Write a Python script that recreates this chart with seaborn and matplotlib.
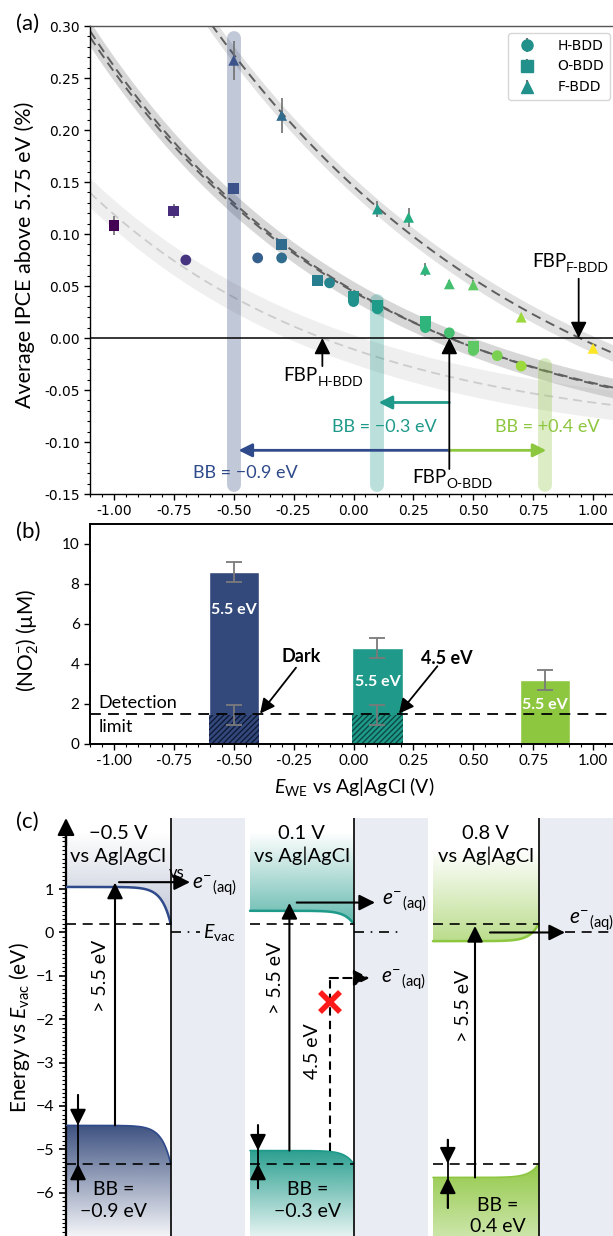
import numpy as np
import pandas as pd
import matplotlib
matplotlib.use('Agg')
import matplotlib.pyplot as plt
from matplotlib.patches import Polygon
from matplotlib.colors import to_rgb
from matplotlib.ticker import MultipleLocator, FixedLocator
import seaborn as sns

# ---------------- panel (a): IPCE vs potential ----------------
h_bdd_E = [-0.7, -0.4, -0.3, -0.1, 0.0, 0.1, 0.3, 0.4, 0.5, 0.6, 0.7]
h_bdd_ipce = [0.075, 0.077, 0.077, 0.053, 0.035, 0.028, 0.010, 0.005, -0.012, -0.017, -0.027]
h_bdd_err = [0.002, 0.002, 0.002, 0.002, 0.002, 0.002, 0.002, 0.002, 0.002, 0.002, 0.002]

o_bdd_E = [-1.0, -0.75, -0.5, -0.3, -0.15, 0.0, 0.1, 0.3, 0.5]
o_bdd_ipce = [0.108, 0.122, 0.144, 0.090, 0.055, 0.040, 0.031, 0.016, -0.008]
o_bdd_err = [0.009, 0.007, 0.005, 0.003, 0.002, 0.002, 0.002, 0.002, 0.002]

f_bdd_E = [-0.5, -0.3, 0.1, 0.23, 0.3, 0.4, 0.5, 0.7, 1.0]
f_bdd_ipce = [0.267, 0.214, 0.124, 0.116, 0.066, 0.052, 0.051, 0.020, -0.010]
f_bdd_err = [0.019, 0.017, 0.008, 0.009, 0.006, 0.004, 0.005, 0.003, 0.003]

# exponential fits, y = a*exp(-b*E) + c, last value = half width of the band
fit_lower = [0.0845, 0.93, -0.0954, 0.014]
fit_mid_1 = [0.153, 0.88, -0.1075, 0.009]
fit_mid_2 = [0.150, 0.88, -0.1055, 0.009]
fit_upper = [0.302, 0.70, -0.156, 0.008]

fbp_E = [-0.13, 0.40, 0.94]
fbp_labels = ['H-BDD', 'O-BDD', 'F-BDD']

# ---------------- panel (b): nitrite ----------------
bar_E = [-0.5, 0.1, 0.8]
nitrite_uM = [8.6, 4.77, 3.2]
nitrite_err = [0.5, 0.5, 0.5]
dark_E = [-0.5, 0.1]
dark_uM = [1.45, 1.45]
dark_err = [0.5, 0.5]
detection_limit = 1.5

# ---------------- panel (c): band diagrams ----------------
potential_labels = ['\u22120.5 V', '0.1 V', '0.8 V']
cb_flat = [1.05, 0.50, -0.20]
vb_flat = [-4.45, -5.03, -5.65]
bb_labels = ['\u22120.9 eV', '\u22120.3 eV', '0.4 eV']
cb_surface = 0.2
vb_surface = -5.33

navy, teal, lime = '#34497b', '#1f9a8a', '#8dc63f'
panel_colors = [navy, teal, lime]

sns.set_theme(style='ticks', rc={'axes.edgecolor': 'black', 'text.color': 'black',
                                 'xtick.color': 'black', 'ytick.color': 'black',
                                 'axes.labelcolor': 'black'})
plt.rcParams['font.family'] = ['DejaVu Sans']
plt.rcParams['mathtext.fontset'] = 'custom'
plt.rcParams['mathtext.rm'] = 'Lato'
plt.rcParams['mathtext.it'] = 'Lato:italic'
plt.rcParams['mathtext.bf'] = 'Lato:bold'
plt.rcParams['hatch.linewidth'] = 1.0
LATO = ['Lato', 'DejaVu Sans']

W, H = 613, 1236
fig = plt.figure(figsize=(W / 100, H / 100), dpi=100)


def box(l, t, r, b):
    return [l / W, 1 - b / H, (r - l) / W, (b - t) / H]


ax_a = fig.add_axes(box(90, 26, 617, 494))
ax_b = fig.add_axes(box(90, 524, 617, 743.5))
ax_c = fig.add_axes(box(66, 818, 613, 1236))


def sub_label(ax, x, y, main, sub, size=13.5, subsize=10, ha='left'):
    t = ax.text(x, y, main, fontsize=size, family=LATO, ha=ha, va='center', zorder=6)
    ax.annotate(sub, xy=(1, 0.12), xycoords=t, fontsize=subsize, family=LATO,
                ha='left', va='center', zorder=6)


# ======================= (a) =======================
ax = ax_a
E = np.linspace(-1.1, 1.1, 300)
a, b, c, w = fit_lower
y = a * np.exp(-b * E) + c
ax.fill_between(E, y - w, y + w, color='#d9d9d9', alpha=0.4, lw=0, zorder=1)
ax.plot(E, y, ls=(0, (5, 3)), color='#cccccc', lw=1.3, zorder=1.2)
a1, b1, c1, w1 = fit_mid_1
a2, b2, c2, w2 = fit_mid_2
y1 = a1 * np.exp(-b1 * E) + c1
y2 = a2 * np.exp(-b2 * E) + c2
ax.fill_between(E, np.minimum(y1, y2) - w1, np.maximum(y1, y2) + w1, color='#a8a8a8',
                alpha=0.45, lw=0, zorder=1)
ax.plot(E, y1, ls=(0, (5, 3)), color='#5f5f5f', lw=1.4, zorder=1.3)
ax.plot(E, y2, ls=(0, (5, 3)), color='#5f5f5f', lw=1.4, zorder=1.3)
a, b, c, w = fit_upper
y = a * np.exp(-b * E) + c
ax.fill_between(E, y - w, y + w, color='#b5b5b5', alpha=0.4, lw=0, zorder=1)
ax.plot(E, y, ls=(0, (5, 3)), color='#5f5f5f', lw=1.4, zorder=1.3)

# highlighted potentials
for x, top, col in zip(bar_E, [0.288, 0.036, -0.026], panel_colors):
    ax.plot([x, x], [-0.141, top], lw=10, color=col, alpha=0.3,
            solid_capstyle='round', zorder=2)

ax.axhline(0, color='black', lw=1.1, zorder=2.2)

df_a = pd.DataFrame({
    'E': h_bdd_E + o_bdd_E + f_bdd_E,
    'ipce': h_bdd_ipce + o_bdd_ipce + f_bdd_ipce,
    'err': h_bdd_err + o_bdd_err + f_bdd_err,
    'surface': ['H-BDD'] * len(h_bdd_E) + ['O-BDD'] * len(o_bdd_E) + ['F-BDD'] * len(f_bdd_E),
})
ax.errorbar(df_a['E'], df_a['ipce'], yerr=df_a['err'], fmt='none', ecolor='#707070',
            elinewidth=1.2, zorder=2.5)
marker_map = {'H-BDD': 'o', 'O-BDD': 's', 'F-BDD': '^'}
sns.scatterplot(data=df_a, x='E', y='ipce', hue='E', hue_norm=(-1, 1), palette='viridis',
                style='surface', markers=marker_map, s=60, linewidth=0, legend=False,
                ax=ax, zorder=3)

handles = []
for lab in fbp_labels:
    h = ax.errorbar([np.nan], [np.nan], yerr=[0.01], fmt=marker_map[lab], color='#22908b',
                    ecolor='#707070', ms=8, label=lab)
    handles.append(h)
ax.legend(handles=handles, loc='upper right', fontsize=10, frameon=True,
          edgecolor='#cccccc', fancybox=True, handletextpad=1.2, borderaxespad=0.5)

# flat-band potentials
arrow_k = dict(arrowstyle='-|>', color='black', lw=1.3, mutation_scale=24, shrinkA=0, shrinkB=0)
ax.annotate('', xy=(fbp_E[0], 0), xytext=(fbp_E[0], -0.027), arrowprops=arrow_k, zorder=5)
sub_label(ax, -0.294, -0.036, 'FBP', fbp_labels[0])
ax.annotate('', xy=(fbp_E[1], 0), xytext=(fbp_E[1], -0.126), arrowprops=arrow_k, zorder=5)
sub_label(ax, 0.244, -0.134, 'FBP', fbp_labels[1])
ax.annotate('', xy=(fbp_E[2], 0), xytext=(fbp_E[2], 0.057), arrowprops=arrow_k, zorder=5)
sub_label(ax, 0.745, 0.074, 'FBP', fbp_labels[2])

# band bending arrows
for y0, x1, col in [(-0.062, 0.105, teal), (-0.108, -0.48, '#2f4a8a'), (-0.108, 0.805, lime)]:
    ax.annotate('', xy=(x1, y0), xytext=(0.4, y0), zorder=4,
                arrowprops=dict(arrowstyle='-|>', color=col, lw=2, mutation_scale=20,
                                shrinkA=0, shrinkB=0))
ax.text(0.13, -0.0856, 'BB = \u22120.3 eV', color=teal, fontsize=13, family=LATO,
        ha='center', va='center')
ax.text(-0.453, -0.13, 'BB = \u22120.9 eV', color='#2f4a8a', fontsize=13, family=LATO,
        ha='center', va='center')
ax.text(0.59, -0.0856, 'BB = +0.4 eV', color=lime, fontsize=13, family=LATO,
        ha='left', va='center')

ax.set_xlim(-1.1, 1.1)
ax.set_ylim(-0.15, 0.30)
ax.set_xticks(np.arange(-1.0, 1.01, 0.25))
ax.xaxis.set_minor_locator(MultipleLocator(0.05))
ax.yaxis.set_minor_locator(MultipleLocator(0.01))
ax.set_yticks(np.arange(-0.15, 0.301, 0.05))
ax.xaxis.set_major_formatter(plt.FormatStrFormatter('%.2f'))
ax.yaxis.set_major_formatter(plt.FormatStrFormatter('%.2f'))
ax.tick_params(which='major', length=4, width=1, labelsize=10)
ax.tick_params(which='minor', length=2, width=0.8)
ax.set_xlabel('')
ax.set_ylabel('')
for s in ax.spines.values():
    s.set_linewidth(1.0)
ax.spines['top'].set_color('#555555')

# ======================= (b) =======================
ax = ax_b
ax.bar(bar_E, nitrite_uM, width=0.21, color=panel_colors, zorder=2)
ax.bar(dark_E, dark_uM, width=0.21, color=panel_colors[:2], hatch='//////',
       edgecolor=['#0f1a3a', '#0a4a42'], linewidth=0, zorder=2.2)
ax.errorbar(bar_E, nitrite_uM, yerr=nitrite_err, fmt='none', ecolor='#7a7a7a',
            elinewidth=1.3, capsize=6, capthick=1.3, zorder=3)
ax.errorbar(dark_E, dark_uM, yerr=dark_err, fmt='none', ecolor='#7a7a7a',
            elinewidth=1.3, capsize=6, capthick=1.3, zorder=3)
ax.axhline(detection_limit, color='black', lw=1.3, ls=(0, (6, 4)), zorder=4)
for x, yl in zip(bar_E, [6.67, 3.1, 1.93]):
    ax.text(x, yl, '5.5 eV', color='white', fontsize=11.5, fontweight='bold',
            family=LATO, ha='center', va='center', zorder=5)
ax.text(-0.217, 4.37, 'Dark', fontsize=13, fontweight='bold', family=LATO,
        ha='center', va='center')
ax.text(0.39, 4.24, '4.5 eV', fontsize=13, fontweight='bold', family=LATO,
        ha='center', va='center')
arrow_b = dict(arrowstyle='-|>', color='black', lw=1.3, mutation_scale=22, shrinkA=0, shrinkB=0)
ax.annotate('', xy=(-0.39, 1.5), xytext=(-0.24, 3.8), arrowprops=arrow_b, zorder=6)
ax.annotate('', xy=(0.19, 1.5), xytext=(0.35, 3.87), arrowprops=arrow_b, zorder=6)
ax.text(-1.065, 2.05, 'Detection', fontsize=13, family=LATO, ha='left', va='center')
ax.text(-1.065, 0.85, 'limit', fontsize=13, family=LATO, ha='left', va='center')

ax.set_xlim(-1.1, 1.1)
ax.set_ylim(0, 11)
ax.set_xticks(np.arange(-1.0, 1.01, 0.25))
ax.xaxis.set_minor_locator(MultipleLocator(0.05))
ax.set_yticks(np.arange(0, 10.1, 2))
ax.xaxis.set_major_formatter(plt.FormatStrFormatter('%.2f'))
ax.tick_params(which='major', length=4, width=1, labelsize=11, labelfontfamily='Lato')
ax.tick_params(which='minor', length=2, width=0.8)
for s in ax.spines.values():
    s.set_linewidth(1.4)
fig.text(354 / W, 1 - 787 / H, r'$E_{\rm WE}$ vs Ag|AgCl (V)', fontsize=14,
         family=LATO, ha='center', va='center')
fig.text(28 / W, 1 - 640 / H, '(NO$_2^{\u2212}$) (\u00b5M)', fontsize=15, family=LATO,
         rotation=90, ha='center', va='center')

# ======================= (c) =======================
ax = ax_c
C_TOP, C_BOT = 2.64, -7.0
sc_left = [66, 250, 433]
surface_x = [170.7, 353.5, 538.7]
electrolyte_right = [245, 428, 613]
cb_alpha = [0.32, 0.7, 0.6]
vb_alpha_far = [0.06, 0.12, 0.45]
cb_fade_top = [2.3, 2.3, 1.9]


def gradient_fill(ax, x, edge, y_far, color, a_edge, a_far, z=1):
    verts = np.column_stack([np.r_[x, x[::-1]], np.r_[edge, np.full(len(x), y_far)]])
    clip = Polygon(verts, closed=True, facecolor='none', edgecolor='none')
    ax.add_patch(clip)
    lo, hi = min(edge.min(), y_far), max(edge.max(), y_far)
    n = 300
    yy = np.linspace(lo, hi, n)
    ref = edge.max() if y_far < edge.min() else edge.min()
    t = np.clip((yy - ref) / (y_far - ref), 0, 1)
    img = np.zeros((n, 1, 4))
    img[:, 0, :3] = to_rgb(color)
    img[:, 0, 3] = a_edge + (a_far - a_edge) * t
    im = ax.imshow(img, extent=[x.min(), x.max(), lo, hi], origin='lower', aspect='auto',
                   zorder=z, interpolation='bilinear')
    im.set_clip_path(clip)


for i in range(3):
    xl, xsf, xr, col = sc_left[i], surface_x[i], electrolyte_right[i], panel_colors[i]
    ax.axvspan(xsf, xr, color='#e9ecf2', lw=0, zorder=0)
    ax.axvline(xsf, color='black', lw=1.2, zorder=4)
    x = np.linspace(xl, xsf, 200)
    decay = np.exp(-(xsf - x) / 9.0)
    cb = cb_flat[i] + (cb_surface - cb_flat[i]) * decay
    vb = vb_flat[i] + (vb_surface - vb_flat[i]) * decay
    edge_col = '#2f4a8a' if i == 0 else col
    gradient_fill(ax, x, cb, cb_fade_top[i], col, cb_alpha[i], 0.0)
    gradient_fill(ax, x, vb, C_BOT, col, 0.95, vb_alpha_far[i])
    ax.plot(x, cb, color=edge_col, lw=1.8, zorder=3)
    ax.plot(x, vb, color=edge_col, lw=1.2, zorder=3)
    ax.plot([xl, xsf], [cb_surface, cb_surface], color='black', lw=1.2, ls=(0, (6, 4)), zorder=3.5)
    ax.plot([xl, xsf], [vb_surface, vb_surface], color='black', lw=1.2, ls=(0, (6, 4)), zorder=3.5)
    xc = (xl + xsf) / 2
    ax.text(xc, 2.02, potential_labels[i] + '\nvs Ag|AgCl', fontsize=14.5, family=LATO,
            ha='center', va='center', linespacing=1.25, zorder=6)

arrow_c = dict(arrowstyle='-|>', color='black', lw=1.5, mutation_scale=24, shrinkA=0, shrinkB=0)
# photo-excitation arrows
for x, y0, y1 in [(115, vb_flat[0], 1.15), (289.4, vb_flat[1], 0.68), (475, vb_flat[2], 0.15)]:
    ax.annotate('', xy=(x, y1), xytext=(x, y0), arrowprops=arrow_c, zorder=5)
for x, yc in [(100, -1.0), (275.7, -1.05), (463.4, -1.7)]:
    ax.text(x, yc, '> 5.5 eV', rotation=90, fontsize=14, family=LATO,
            ha='center', va='center', zorder=6)
# emission arrows
for x0, x1, y0 in [(119, 190, 1.16), (296.7, 375, 0.69), (490, 565, 0.0)]:
    ax.annotate('', xy=(x1, y0), xytext=(x0, y0), arrowprops=arrow_c, zorder=5)
eaq = r'$e^{-}{}_{\rm (aq)}$'
for x, y in [(192, 1.08), (381.7, 0.72), (569, 0.28), (381.3, -1.1)]:
    ax.text(x, y, eaq, fontsize=15, ha='left', va='center', zorder=6)
ax.text(176.7, 1.37, 'vs', fontsize=12, family=LATO, ha='center', va='center', zorder=6)

# vacuum level markers in the electrolyte
ax.plot([170.7, 200], [0.0, 0.0], color='black', lw=1.2, ls=(0, (6, 4, 1, 4)), zorder=3)
ax.text(203, 0.0, r'$E_{\rm vac}$', fontsize=14, ha='left', va='center', zorder=6)
ax.plot([353.5, 400], [0.0, 0.0], color='black', lw=1.2, ls=(0, (6, 4, 1, 4)), zorder=3)
ax.plot([565, 613], [0.0, 0.0], color='black', lw=1.2, ls=(0, (6, 4)), zorder=3)

# sub-bandgap (4.5 eV) path that fails
ax.plot([329.7, 329.7], [vb_flat[1], -1.05], color='black', lw=1.5, ls=(0, (4, 2.5)), zorder=5)
ax.annotate('', xy=(369.6, -1.05), xytext=(329.7, -1.05), zorder=5,
            arrowprops=dict(arrowstyle='-|>', color='black', lw=1.5, ls=(0, (4, 2.5)),
                            mutation_scale=24, shrinkA=0, shrinkB=0))
ax.plot([329.7], [-1.6], marker='x', color='#ff1a1a', ms=14, mew=4, zorder=7)
ax.text(312.9, -2.73, '4.5 eV', rotation=90, fontsize=14, family=LATO,
        ha='center', va='center', zorder=6)

# band bending indicators
for x, top, up_lvl, low_lvl, bot in [(78, -3.75, vb_flat[0], vb_surface, -5.97),
                                    (258, -4.45, vb_flat[1], vb_surface, -5.9),
                                    (447.8, -4.78, vb_surface, vb_flat[2], -6.35)]:
    ax.plot([x, x], [top, bot], color='black', lw=1.3, zorder=5)
    ax.annotate('', xy=(x, up_lvl), xytext=(x, top), arrowprops=arrow_c, zorder=5)
    ax.annotate('', xy=(x, low_lvl), xytext=(x, bot), arrowprops=arrow_c, zorder=5)
for x, y, lab in [(114, -6.18, bb_labels[0]), (308, -6.18, bb_labels[1]), (497.6, -6.53, bb_labels[2])]:
    ax.text(x, y, 'BB =\n' + lab, fontsize=14, family=LATO, ha='center', va='center',
            linespacing=1.3, zorder=6)

# energy axis
ax.set_xlim(66, 613)
ax.set_ylim(C_BOT, C_TOP)
ax.set_facecolor('white')
for side in ['top', 'right', 'bottom']:
    ax.spines[side].set_visible(False)
ax.spines['left'].set_linewidth(1.6)
ax.spines['left'].set_bounds(C_BOT, 2.2)
ax.annotate('', xy=(66, C_TOP), xytext=(66, 2.0), annotation_clip=False, zorder=8,
            arrowprops=dict(arrowstyle='-|>', color='black', lw=1.6, mutation_scale=26,
                            shrinkA=0, shrinkB=0))
ax.set_xticks([])
ax.set_yticks(np.arange(-6, 1.1, 1))
ax.yaxis.set_minor_locator(FixedLocator(np.arange(-7.0, 2.21, 0.1)))
ax.tick_params(axis='y', which='major', length=5, width=1.2, labelsize=11.5,
               labelfontfamily='Lato')
ax.tick_params(axis='y', which='minor', length=3, width=0.8)
fig.text(20 / W, 1 - 1028 / H, r'Energy vs $E_{\rm vac}$ (eV)', fontsize=15, family=LATO,
         rotation=90, ha='center', va='center')

# panel (a) axis label and panel letters
fig.text(25 / W, 1 - 255 / H, 'Average IPCE above 5.75 eV (%)', fontsize=15.5, family=LATO,
         rotation=90, ha='center', va='center')
for lab, px, py in [('(a)', 28, 24), ('(b)', 28, 532), ('(c)', 27, 822)]:
    fig.text(px / W, 1 - py / H, lab, fontsize=16, family=LATO, ha='center', va='center')

fig.savefig('out.png', dpi=100)
